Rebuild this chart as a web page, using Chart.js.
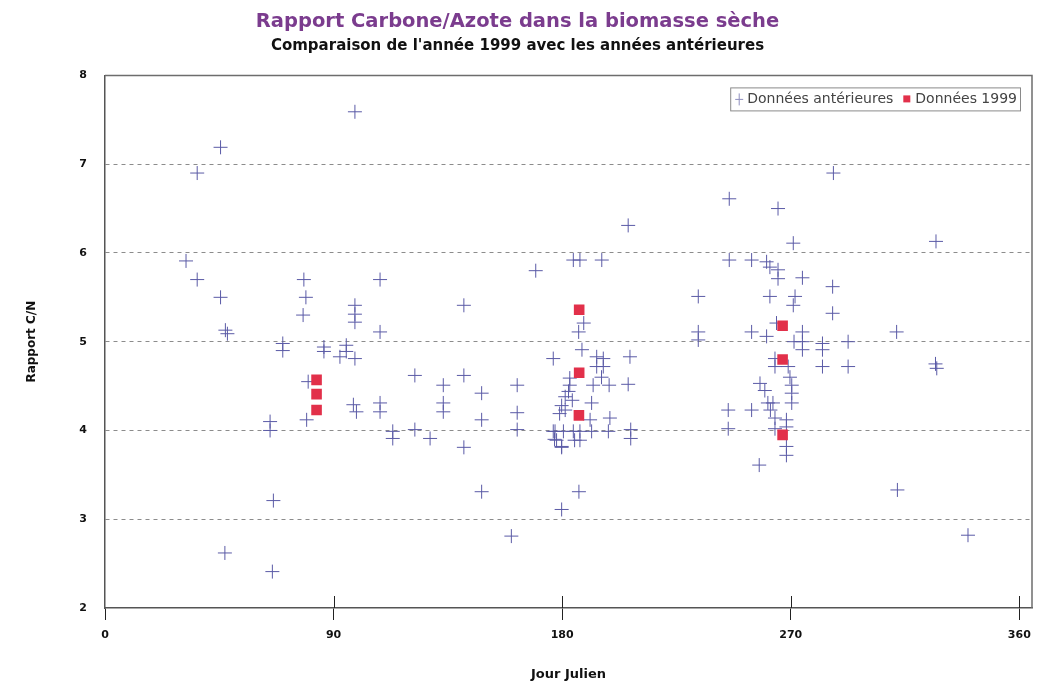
<!DOCTYPE html>
<html>
<head>
<meta charset="utf-8">
<script src="https://cdn.jsdelivr.net/npm/chart.js@4.4.1/dist/chart.umd.min.js"></script>
<style>
  html, body { margin: 0; padding: 0; background: #fff; }
  #wrap { width: 1040px; height: 682px; }
</style>
</head>
<body>
<div id="wrap"><canvas id="c" width="1040" height="682"></canvas></div>
<script>
// Texts
const TITLE = 'Rapport Carbone/Azote dans la biomasse sèche';
const SUBTITLE = "Comparaison de l'année 1999 avec les années antérieures";
const X_TITLE = 'Jour Julien';
const Y_TITLE = 'Rapport C/N';
const SERIES_LABELS = ['Données antérieures', 'Données 1999'];

// Axis ticks
const X_TICKS = [0, 90, 180, 270, 360];
const Y_TICKS = [2, 3, 4, 5, 6, 7, 8];

// Earlier years: [julian day, C/N ratio]
const priorYears = [
  [31.9, 5.91], [36.3, 6.90], [45.5, 7.19], [36.3, 5.70], [45.5, 5.50], [47.4, 5.13], [48.2, 5.09], [47.2, 2.62],
  [65.0, 4.10], [65.0, 4.00], [66.3, 3.21], [65.9, 2.41],
  [70.0, 4.98], [70.0, 4.90],
  [78.3, 5.70], [79.1, 5.50], [78.0, 5.30], [80.0, 4.55], [79.4, 4.12],
  [86.2, 4.94], [86.2, 4.89],
  [92.5, 4.83], [95.0, 4.96], [95.0, 4.89], [98.4, 4.81],
  [98.4, 7.59], [98.4, 5.41], [98.4, 5.31], [98.4, 5.22],
  [97.8, 4.29], [99.0, 4.21],
  [108.3, 5.70], [108.3, 5.11], [108.3, 4.31], [108.3, 4.21],
  [113.3, 3.99], [113.3, 3.91],
  [122.0, 4.62], [122.0, 4.01], [128.0, 3.91],
  [133.2, 4.51], [133.2, 4.31], [133.2, 4.21],
  [141.3, 5.41], [141.3, 4.62], [141.3, 3.81],
  [148.3, 4.42], [148.3, 4.12], [148.3, 3.31],
  [160.0, 2.81],
  [162.3, 4.51], [162.3, 4.20], [162.3, 4.01],
  [169.6, 5.80],
  [176.5, 4.81], [176.5, 3.99], [177.0, 3.90], [179.8, 3.81], [179.8, 3.11],
  [184.4, 5.92], [187.0, 5.92], [195.6, 5.92],
  [186.5, 5.11], [188.5, 5.21], [187.8, 4.91],
  [183.0, 4.59], [183.0, 4.51], [182.5, 4.44], [181.2, 4.38], [184.0, 4.34], [179.8, 4.28], [181.2, 4.23],
  [191.6, 4.31], [191.0, 4.12], [198.8, 4.14], [179.0, 4.19],
  [177.2, 3.99], [180.5, 3.99], [184.4, 3.99], [187.0, 3.99], [191.6, 3.99], [198.2, 3.99],
  [177.8, 3.89], [184.9, 3.89], [187.0, 3.89], [179.8, 3.82],
  [186.6, 3.31],
  [193.6, 4.83], [196.2, 4.81], [193.6, 4.72], [196.2, 4.72], [195.5, 4.60],
  [192.2, 4.51], [198.5, 4.51],
  [206.7, 4.83], [206.0, 4.52], [207.0, 4.01], [207.0, 3.91],
  [206.0, 6.31],
  [233.6, 5.51], [233.6, 5.11], [233.6, 5.02],
  [245.8, 6.61], [245.8, 5.92], [245.4, 4.23], [245.4, 4.02],
  [254.6, 5.92], [254.6, 5.11], [254.6, 4.23],
  [257.6, 3.61], [257.9, 4.53], [259.8, 4.45],
  [260.5, 5.90], [261.8, 5.84], [261.8, 5.51], [260.5, 5.06],
  [261.0, 4.31], [263.0, 4.31], [262.0, 4.23],
  [263.8, 4.81], [263.8, 4.72], [263.8, 4.14], [263.8, 4.02],
  [264.4, 5.21],
  [265.0, 6.50], [265.0, 5.81], [265.0, 5.71],
  [268.3, 4.12], [268.3, 4.04], [268.3, 3.82], [268.3, 3.72],
  [269.0, 4.72], [269.7, 4.60], [270.4, 4.51], [270.4, 4.42], [270.4, 4.31],
  [271.0, 6.11], [271.7, 5.51], [271.0, 5.41], [271.3, 5.00],
  [274.6, 5.72], [274.6, 5.11], [274.6, 5.00], [274.6, 4.91],
  [282.5, 4.98], [282.5, 4.91], [282.5, 4.72],
  [286.8, 6.90], [286.5, 5.62], [286.5, 5.32],
  [292.6, 5.00], [292.6, 4.72],
  [311.7, 5.11], [312.0, 3.33],
  [327.2, 6.13], [327.0, 4.75], [327.5, 4.70],
  [339.8, 2.82]
];

// Year 1999: [julian day, C/N ratio]
const year1999 = [
  [83.3, 4.57], [83.3, 4.41], [83.3, 4.23],
  [186.7, 5.36], [186.7, 4.65], [186.6, 4.17],
  [266.8, 5.18], [266.8, 4.80], [266.8, 3.95]
];

const BOLD_FONT = '"DejaVu Sans", "Liberation Sans", Arial, sans-serif';
const LEGEND_FONT = '"DejaVu Sans", Arial, sans-serif';
const CROSS_COLOR = '#5a5aa6';
const SQUARE_COLOR = '#e2304a';

// Plot frame (top/right edges) and the upward half of the x tick marks
const framePlugin = {
  id: 'frame',
  afterDraw(chart) {
    const { ctx, chartArea: a, scales } = chart;
    ctx.save();
    ctx.strokeStyle = '#6d6d6d';
    ctx.lineWidth = 1.5;
    ctx.beginPath();
    ctx.moveTo(a.left, a.top);
    ctx.lineTo(a.right, a.top);
    ctx.lineTo(a.right, a.bottom);
    ctx.stroke();
    ctx.strokeStyle = '#222';
    ctx.lineWidth = 1;
    ctx.beginPath();
    X_TICKS.forEach(v => {
      if (v === 0) return;
      const px = Math.round(scales.x.getPixelForValue(v)) + 0.5;
      ctx.moveTo(px, a.bottom - 12);
      ctx.lineTo(px, a.bottom);
    });
    ctx.stroke();
    ctx.restore();
  }
};

// Boxed legend in the upper-right corner of the plot
const boxLegendPlugin = {
  id: 'boxLegend',
  afterDraw(chart) {
    const { ctx, chartArea: a } = chart;
    const ds = chart.data.datasets;
    ctx.save();
    ctx.font = '14px ' + LEGEND_FONT;
    const w1 = ctx.measureText(ds[0].label).width;
    const w2 = ctx.measureText(ds[1].label).width;
    const h = 23;
    const w = 5 + 8 + 4 + w1 + 10 + 7 + 5 + w2 + 3;
    const x0 = a.right - 12 - w;
    const y0 = a.top + 12;
    ctx.fillStyle = '#fff';
    ctx.fillRect(x0, y0, w, h);
    ctx.strokeStyle = '#8a8a8a';
    ctx.lineWidth = 1;
    ctx.strokeRect(x0 + 0.5, y0 + 0.5, w, h);
    const cy = y0 + h / 2 + 0.5;
    let x = x0 + 5;
    ctx.strokeStyle = '#8f8fbf';
    ctx.beginPath();
    ctx.moveTo(x + 4, cy - 6); ctx.lineTo(x + 4, cy + 6);
    ctx.moveTo(x, cy); ctx.lineTo(x + 8, cy);
    ctx.stroke();
    x += 12;
    ctx.fillStyle = '#444';
    ctx.textBaseline = 'middle';
    ctx.fillText(ds[0].label, x, cy);
    x += w1 + 10;
    ctx.fillStyle = ds[1].backgroundColor;
    ctx.fillRect(x, cy - 4, 7, 7);
    x += 12;
    ctx.fillStyle = '#444';
    ctx.fillText(ds[1].label, x, cy);
    ctx.restore();
  }
};

const toPoints = rows => rows.map(([d, r]) => ({ x: d, y: r }));

new Chart(document.getElementById('c'), {
  type: 'scatter',
  data: {
    datasets: [
      {
        label: SERIES_LABELS[0],
        data: toPoints(priorYears),
        pointStyle: 'cross',
        pointRadius: 7,
        borderColor: CROSS_COLOR,
        backgroundColor: CROSS_COLOR,
        borderWidth: 1,
        order: 2
      },
      {
        label: SERIES_LABELS[1],
        data: toPoints(year1999),
        pointStyle: 'rect',
        pointRadius: 7.5,
        borderColor: SQUARE_COLOR,
        backgroundColor: SQUARE_COLOR,
        borderWidth: 0,
        order: 1
      }
    ]
  },
  options: {
    responsive: false,
    animation: false,
    devicePixelRatio: 1,
    layout: { padding: { left: 0, right: 5, top: 0, bottom: 0 } },
    plugins: {
      legend: { display: false },
      tooltip: { enabled: false },
      title: {
        display: true,
        text: TITLE,
        color: '#7b3c8e',
        font: { family: BOLD_FONT, size: 19.5, weight: 'bold' },
        padding: { top: 10, bottom: 4 }
      },
      subtitle: {
        display: true,
        text: SUBTITLE,
        color: '#111',
        font: { family: BOLD_FONT, size: 15, weight: 'bold' },
        padding: { top: 0, bottom: 20 }
      }
    },
    scales: {
      x: {
        type: 'linear',
        min: 0,
        max: 365,
        afterBuildTicks: s => { s.ticks = X_TICKS.map(v => ({ value: v })); },
        afterFit: s => { s.height = 74; },
        grid: { display: true, drawOnChartArea: false, drawTicks: true, tickLength: 12, color: '#222', lineWidth: 1 },
        border: { display: true, color: '#555', width: 1.5 },
        ticks: { padding: 9, maxRotation: 0, color: '#111', font: { family: BOLD_FONT, size: 11, weight: 'bold' } },
        title: { display: true, text: X_TITLE, color: '#111', font: { family: BOLD_FONT, size: 13, weight: 'bold' }, padding: { top: 0, bottom: 0 } }
      },
      y: {
        type: 'linear',
        min: 2,
        max: 8,
        afterBuildTicks: s => { s.ticks = Y_TICKS.map(v => ({ value: v })); },
        afterFit: s => { s.width = 105; },
        grid: {
          drawTicks: false,
          lineWidth: 1,
          color: c => (c.tick && (c.tick.value === 2 || c.tick.value === 8)) ? 'rgba(0,0,0,0)' : '#8c8c8c'
        },
        border: { display: true, color: '#555', width: 1.5, dash: [4, 4] },
        ticks: { padding: 18, color: '#111', font: { family: BOLD_FONT, size: 11, weight: 'bold' } },
        title: { display: true, text: Y_TITLE, color: '#111', font: { family: BOLD_FONT, size: 12, weight: 'bold' }, padding: { top: 25, bottom: 0 } }
      }
    }
  },
  plugins: [framePlugin, boxLegendPlugin]
});
</script>
</body>
</html>
